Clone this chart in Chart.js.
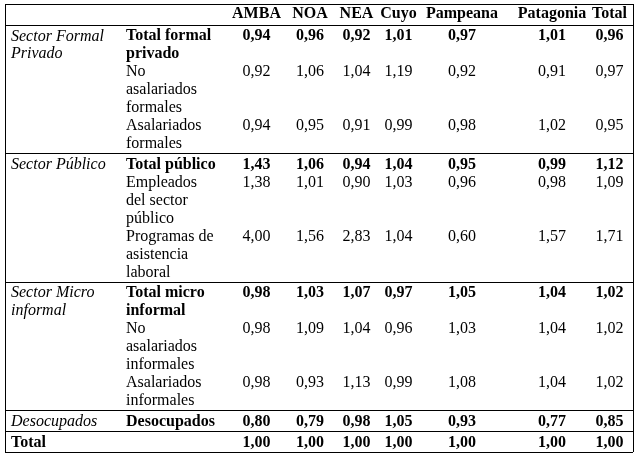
<!DOCTYPE html>
<html>
<head>
<meta charset="utf-8">
<script src="https://cdn.jsdelivr.net/npm/chart.js@4/dist/chart.umd.min.js"></script>
<style>
  html, body { margin: 0; padding: 0; background: #fff; }
  #wrap { width: 637px; height: 460px; position: relative; }
</style>
</head>
<body>
<div id="wrap"><canvas id="tabla"></canvas></div>
<script>
// Datos de la tabla
const regions = ['AMBA', 'NOA', 'NEA', 'Cuyo', 'Pampeana', 'Patagonia', 'Total'];
const sectors = [['Sector Formal', 'Privado'], ['Sector Público'], ['Sector Micro', 'informal'], ['Desocupados'], ['Total']];
const categories = [
    ['Total formal', 'privado'], ['No', 'asalariados', 'formales'], ['Asalariados', 'formales'],
    ['Total público'], ['Empleados', 'del sector', 'público'], ['Programas de', 'asistencia', 'laboral'],
    ['Total micro', 'informal'], ['No', 'asalariados', 'informales'], ['Asalariados', 'informales'],
    ['Desocupados'], ['']
];
const sectorOfRow = [0, 0, 0, 1, 1, 1, 2, 2, 2, 3, 4];
const boldRows = [0, 3, 6, 9, 10];

const amba      = [0.94, 0.92, 0.94, 1.43, 1.38, 4.00, 0.98, 0.98, 0.98, 0.80, 1.00];
const noa       = [0.96, 1.06, 0.95, 1.06, 1.01, 1.56, 1.03, 1.09, 0.93, 0.79, 1.00];
const nea       = [0.92, 1.04, 0.91, 0.94, 0.90, 2.83, 1.07, 1.04, 1.13, 0.98, 1.00];
const cuyo      = [1.01, 1.19, 0.99, 1.04, 1.03, 1.04, 0.97, 0.96, 0.99, 1.05, 1.00];
const pampeana  = [0.97, 0.92, 0.98, 0.95, 0.96, 0.60, 1.05, 1.03, 1.08, 0.93, 1.00];
const patagonia = [1.01, 0.91, 1.02, 0.99, 0.98, 1.57, 1.04, 1.04, 1.04, 0.77, 1.00];
const total     = [0.96, 0.97, 0.95, 1.12, 1.09, 1.71, 1.02, 1.02, 1.02, 0.85, 1.00];
const series = [amba, noa, nea, cuyo, pampeana, patagonia, total];

// Maquetación (unidades de escala)
const TABLE_W = 628;
const SECTION_PAD = 3 / 18;
const PAD_TOP = 2.5 / 18;
const groupX = 6;
const subX = 121;
const valueX = [251.5, 305, 351.5, 393.5, 457, 547, 604.5];
const FONT = '"Liberation Serif", "Times New Roman", serif';
const SIZE = 16;

// posiciones verticales de filas y líneas de sección
const rowTop = [];
const sectionLines = [];
let yCur = 1 + SECTION_PAD; // encabezado
sectionLines.push(0, yCur);
categories.forEach((lines, i) => {
    if (i > 0 && sectorOfRow[i] !== sectorOfRow[i - 1]) {
        yCur += SECTION_PAD;
        sectionLines.push(yCur);
    }
    rowTop.push(yCur);
    yCur += Math.max(lines.length, 1);
});
yCur += SECTION_PAD;
sectionLines.push(yCur);
const TOTAL_H = yCur;

const fmt = v => v.toFixed(2).replace('.', ',');

const tablePlugin = {
    id: 'tablePlugin',
    afterDraw(chart) {
        const ctx = chart.ctx;
        const xs = chart.scales.x;
        const ys = chart.scales.y;
        const lineY = (u, k) => ys.getPixelForValue(u + PAD_TOP + k + 0.5);
        ctx.save();
        ctx.fillStyle = '#000';
        ctx.strokeStyle = '#000';
        ctx.lineWidth = 1;
        ctx.textBaseline = 'middle';

        // bordes
        ctx.beginPath();
        sectionLines.forEach(u => {
            const py = Math.round(ys.getPixelForValue(u)) + 0.5;
            ctx.moveTo(xs.getPixelForValue(0), py);
            ctx.lineTo(xs.getPixelForValue(TABLE_W), py);
        });
        [0, TABLE_W].forEach(u => {
            const px = Math.round(xs.getPixelForValue(u)) + 0.5;
            ctx.moveTo(px, ys.getPixelForValue(0));
            ctx.lineTo(px, ys.getPixelForValue(TOTAL_H));
        });
        ctx.stroke();

        // encabezado
        ctx.font = 'bold ' + SIZE + 'px ' + FONT;
        ctx.textAlign = 'center';
        regions.forEach((r, j) => {
            ctx.fillText(r, xs.getPixelForValue(valueX[j]), ys.getPixelForValue(0.5 + PAD_TOP / 2));
        });

        // filas
        categories.forEach((lines, i) => {
            const top = rowTop[i];
            const bold = boldRows.includes(i);
            const s = sectorOfRow[i];
            if (i === 0 || sectorOfRow[i - 1] !== s) {
                const isTotal = s === sectors.length - 1;
                ctx.font = (isTotal ? 'bold ' : 'italic ') + SIZE + 'px ' + FONT;
                ctx.textAlign = 'left';
                sectors[s].forEach((t, k) => ctx.fillText(t, xs.getPixelForValue(groupX), lineY(top, k)));
            }
            ctx.font = (bold ? 'bold ' : '') + SIZE + 'px ' + FONT;
            ctx.textAlign = 'left';
            lines.forEach((t, k) => ctx.fillText(t, xs.getPixelForValue(subX), lineY(top, k)));
            ctx.textAlign = 'center';
            series.forEach((vals, j) => {
                ctx.fillText(fmt(vals[i]), xs.getPixelForValue(valueX[j]), lineY(top, 0));
            });
        });
        ctx.restore();
    }
};

new Chart(document.getElementById('tabla'), {
    type: 'scatter',
    data: { datasets: [] },
    options: {
        responsive: true,
        maintainAspectRatio: false,
        animation: false,
        layout: { padding: { left: 5, right: 4, top: 4, bottom: 8 } },
        plugins: { legend: { display: false }, tooltip: { enabled: false } },
        scales: {
            x: { type: 'linear', min: 0, max: TABLE_W, display: false },
            y: { type: 'linear', min: 0, max: TOTAL_H, reverse: true, display: false }
        }
    },
    plugins: [tablePlugin]
});
</script>
</body>
</html>
